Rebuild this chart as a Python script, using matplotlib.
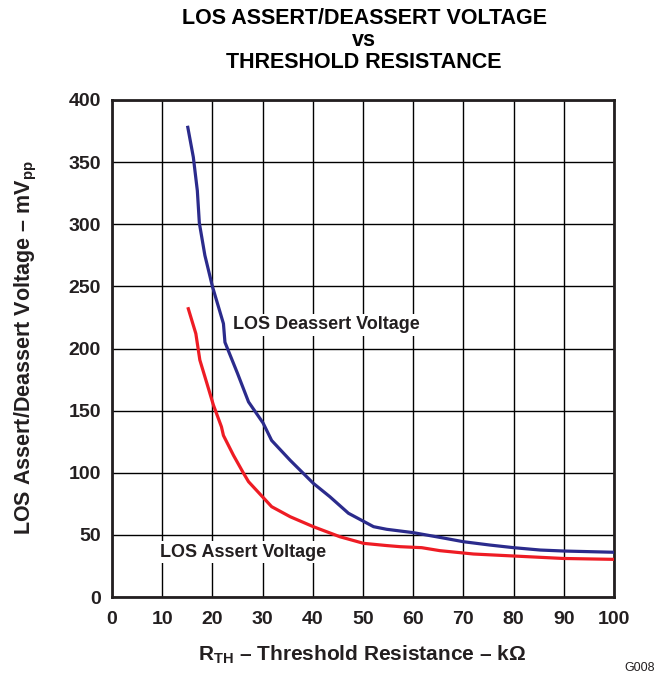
import matplotlib
matplotlib.use("Agg")
import matplotlib.pyplot as plt

plt.rcParams['font.family'] = ['Liberation Sans', 'DejaVu Sans']
plt.rcParams['mathtext.fontset'] = 'custom'
plt.rcParams['mathtext.rm'] = 'Liberation Sans:bold'
plt.rcParams['mathtext.bf'] = 'Liberation Sans:bold'
plt.rcParams['mathtext.it'] = 'Liberation Sans:bold'

deassert_x = [15.1, 16.2, 17.0, 17.4, 18.5, 20.0, 22.2, 22.5, 25.0, 27.2, 30.1, 31.8, 35.5, 40.1, 43.4, 47.1, 52.1, 54.7, 60.0, 65.3, 70.0, 75.3, 80.0, 85.3, 90.0, 100.0]
deassert_y = [378, 354, 327, 301, 275, 250, 220, 205, 180, 157, 140, 126, 110, 91.5, 80.7, 67.4, 56.6, 54.5, 51.8, 48.0, 44.5, 41.8, 39.7, 37.8, 37.0, 36.0]

assert_x = [15.2, 16.7, 17.5, 18.9, 20.2, 21.8, 22.2, 24.2, 26.2, 27.2, 31.8, 35.5, 40.1, 45.4, 50.1, 54.7, 57.4, 61.7, 65.3, 72.0, 80.0, 90.0, 100.0]
assert_y = [232, 212, 190.7, 172, 154.5, 137, 130, 114, 99.6, 92.8, 72.7, 64.6, 56.6, 48.5, 43.2, 41.4, 40.5, 39.7, 37.3, 34.6, 33.0, 31.0, 30.3]

x_ticks = [0, 10, 20, 30, 40, 50, 60, 70, 80, 90, 100]
y_ticks = [0, 50, 100, 150, 200, 250, 300, 350, 400]

TXT = '#231f20'

fig = plt.figure(figsize=(6.69, 6.75), dpi=100)
ax = fig.add_axes([112/669, 1-597/675, (614-112)/669, (597-100)/675])

ax.plot(deassert_x, deassert_y, color='#2b2b8c', lw=2.3, zorder=3)
ax.plot(assert_x, assert_y, color='#ee1c24', lw=2.3, zorder=3)

ax.set_xlim(0, 100)
ax.set_ylim(0, 400)
ax.set_xticks(x_ticks)
ax.set_yticks(y_ticks)
ax.grid(True, color='black', lw=1.0)
ax.tick_params(length=0, labelsize=14, labelcolor=TXT)
ax.tick_params(axis='y', pad=8)
ax.tick_params(axis='x', pad=10)
for lab in ax.get_xticklabels() + ax.get_yticklabels():
    lab.set_fontweight('bold')
for s in ax.spines.values():
    s.set_linewidth(2.0)
    s.set_color('#231f20')

ax.text(24.1, 219, 'LOS Deassert Voltage', fontsize=13, fontweight='bold', color=TXT,
        va='center', ha='left', zorder=4,
        bbox=dict(facecolor='white', edgecolor='none', pad=2))
ax.text(9.6, 36, 'LOS Assert Voltage', fontsize=13, fontweight='bold', color=TXT,
        va='center', ha='left', zorder=4,
        bbox=dict(facecolor='white', edgecolor='none', pad=2))

fig.text(362/669, 1-655/675, r'R$_{\mathrm{TH}}$ – Threshold Resistance – kΩ', ha='center', va='center',
         fontsize=15, fontweight='bold', color=TXT)
fig.text(26/669, 1-348/675, r'LOS Assert/Deassert Voltage – mV$_{\mathrm{pp}}$', ha='center', va='center',
         rotation=90, fontsize=15.5, fontweight='bold', color=TXT)

tfam = ['Liberation Sans Narrow', 'Liberation Sans']
fig.text(364/669, 1-18/675, 'LOS ASSERT/DEASSERT VOLTAGE', ha='center', va='center', fontsize=15.5, fontweight='bold', family=tfam)
fig.text(364/669, 1-40/675, 'vs', ha='center', va='center', fontsize=15.5, fontweight='bold', family=tfam)
fig.text(364/669, 1-62/675, 'THRESHOLD RESISTANCE', ha='center', va='center', fontsize=15.5, fontweight='bold', family=tfam)

fig.text(655/669, 1-668/675, 'G008', ha='right', va='center', fontsize=9, color=TXT)

fig.savefig('out.png', dpi=100)
